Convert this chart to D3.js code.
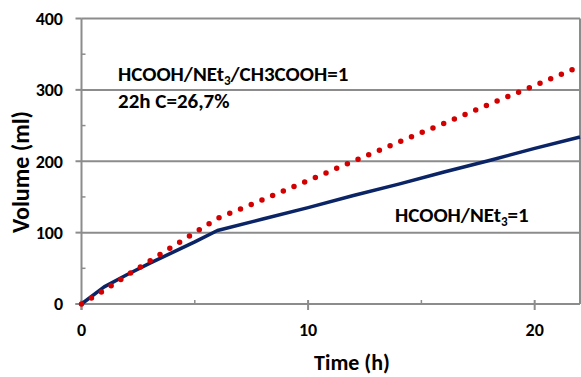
<!DOCTYPE html>
<html>
<head>
<meta charset="utf-8">
<script src="https://cdn.jsdelivr.net/npm/d3@7"></script>
<style>
  html, body { margin: 0; padding: 0; background: #fff; }
  text { font-family: Carlito, Calibri, "Liberation Sans", sans-serif; font-weight: bold; fill: #000; }
</style>
</head>
<body>
<svg id="chart" width="581" height="377"></svg>
<script>
// time (h) and volume (ml)
const timeHours = [0, 1, 2, 3, 4, 5, 6, 8, 10, 12, 14, 16, 18, 20, 22];
const volAcetic = [0, 19, 40, 60, 80, 100, 120, 146, 173, 200, 227, 253, 280, 306, 333];
const volPlain = [0, 24, 41, 57, 72, 87, 103, 119, 135, 152, 168, 185, 201, 218, 234];

const xTicks = [0, 10, 20];
const xMinorTicks = [5, 15];
const yTicks = [0, 100, 200, 300, 400];
const yMinorTicks = [50, 150, 250, 350];

const svg = d3.select('#chart');

const x = d3.scaleLinear().domain([0, 22]).range([81.5, 580]);
const y = d3.scaleLinear().domain([0, 400]).range([304, 18.5]);

const gridColor = '#8c8c8c';

// horizontal gridlines
svg.append('g')
  .selectAll('line')
  .data(yTicks.slice(1))
  .join('line')
  .attr('x1', x(0)).attr('x2', x(22))
  .attr('y1', d => y(d)).attr('y2', d => y(d))
  .attr('stroke', gridColor)
  .attr('stroke-width', 2);

// right border
svg.append('line')
  .attr('x1', x(22)).attr('x2', x(22))
  .attr('y1', y(400)).attr('y2', y(0))
  .attr('stroke', gridColor)
  .attr('stroke-width', 2);

// y axis: major ticks outside, minor inside
const yAxis = svg.append('g').attr('transform', `translate(${x(0)},0)`);
yAxis.append('line')
  .attr('y1', y(400)).attr('y2', y(0) + 6)
  .attr('stroke', gridColor).attr('stroke-width', 2);
yAxis.selectAll('.major')
  .data(yTicks)
  .join('line')
  .attr('class', 'major')
  .attr('x1', -6).attr('x2', 0)
  .attr('y1', d => y(d)).attr('y2', d => y(d))
  .attr('stroke', gridColor).attr('stroke-width', 2);
yAxis.selectAll('.minor')
  .data(yMinorTicks)
  .join('line')
  .attr('class', 'minor')
  .attr('x1', 0).attr('x2', 4)
  .attr('y1', d => y(d)).attr('y2', d => y(d))
  .attr('stroke', gridColor).attr('stroke-width', 1.5);
yAxis.selectAll('text')
  .data(yTicks)
  .join('text')
  .attr('x', -18.5)
  .attr('y', d => y(d))
  .attr('dy', '0.35em')
  .attr('text-anchor', 'end')
  .attr('font-size', 18)
  .text(d => d);

// x axis
const xAxis = svg.append('g').attr('transform', `translate(0,${y(0)})`);
xAxis.append('line')
  .attr('x1', x(0) - 6).attr('x2', x(22))
  .attr('stroke', gridColor).attr('stroke-width', 2);
xAxis.selectAll('.major')
  .data(xTicks)
  .join('line')
  .attr('class', 'major')
  .attr('x1', d => x(d)).attr('x2', d => x(d))
  .attr('y1', -4).attr('y2', 6)
  .attr('stroke', gridColor).attr('stroke-width', 2);
xAxis.selectAll('.minor')
  .data(xMinorTicks)
  .join('line')
  .attr('class', 'minor')
  .attr('x1', d => x(d)).attr('x2', d => x(d))
  .attr('y1', -4).attr('y2', 0)
  .attr('stroke', gridColor).attr('stroke-width', 1.5);
xAxis.selectAll('text')
  .data(xTicks)
  .join('text')
  .attr('x', d => x(d))
  .attr('y', 26)
  .attr('dy', '0.35em')
  .attr('text-anchor', 'middle')
  .attr('font-size', 18)
  .text(d => d);

// axis titles
svg.append('text')
  .attr('x', 352).attr('y', 370)
  .attr('text-anchor', 'middle')
  .attr('font-size', 22)
  .text('Time (h)');

svg.append('text')
  .attr('transform', 'translate(29,172) rotate(-90)')
  .attr('text-anchor', 'middle')
  .attr('font-size', 24)
  .text('Volume (ml)');

// series
const line = d3.line()
  .x((d, i) => x(timeHours[i]))
  .y(d => y(d));

svg.append('path')
  .datum(volPlain)
  .attr('fill', 'none')
  .attr('stroke', '#0b2466')
  .attr('stroke-width', 3.5)
  .attr('stroke-linejoin', 'round')
  .attr('d', line);

svg.append('path')
  .datum(volAcetic)
  .attr('fill', 'none')
  .attr('stroke', '#d20000')
  .attr('stroke-width', 5.5)
  .attr('stroke-linecap', 'round')
  .attr('stroke-dasharray', '0 11.6')
  .attr('d', line);

// annotations
function addRatio(xPos, yPos, parts) {
  const t = svg.append('text')
    .attr('x', xPos).attr('y', yPos)
    .attr('font-size', 21);
  t.append('tspan').text(parts[0]);
  t.append('tspan').attr('font-size', 13).attr('dy', 4).text('3');
  t.append('tspan').attr('dy', -4).text(parts[1]);
}

addRatio(118, 81, ['HCOOH/NEt', '/CH3COOH=1']);

svg.append('text')
  .attr('x', 118).attr('y', 108)
  .attr('font-size', 21)
  .text('22h C=26,7%');

addRatio(395, 222, ['HCOOH/NEt', '=1']);
</script>
</body>
</html>
